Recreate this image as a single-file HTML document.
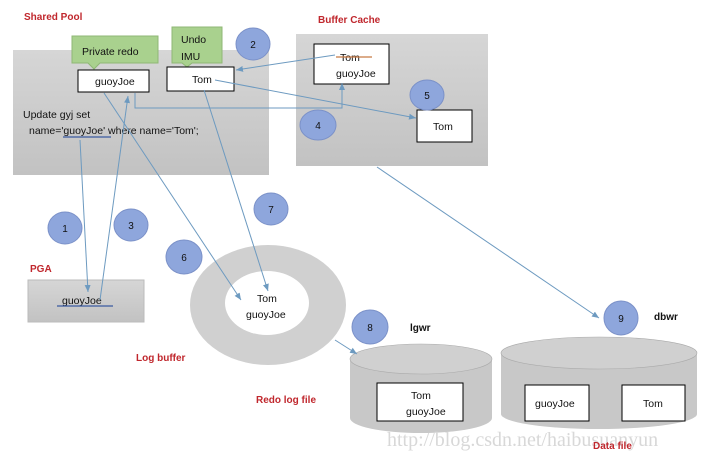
<!DOCTYPE html>
<html><head><meta charset="utf-8"><style>
html,body{margin:0;padding:0;background:#fff;}
svg{display:block;font-family:"Liberation Sans",sans-serif;}
.red{fill:#c0272d;font-weight:bold;font-size:10px;}
.t{font-size:10.5px;fill:#111;}
.c{fill:#8ea6dc;stroke:#7b91c8;}
.cn{font-size:10px;fill:#111;text-anchor:middle;}
.ln{stroke:#6d9ac0;stroke-width:1;fill:none;marker-end:url(#a);}
</style></head><body>
<svg width="724" height="459" viewBox="0 0 724 459">
<defs>
<marker id="a" markerWidth="8" markerHeight="8" refX="7" refY="4" orient="auto" markerUnits="userSpaceOnUse"><path d="M0,1 L7,4 L0,7 z" fill="#6d9ac0"/></marker>
<linearGradient id="g" x1="0" y1="0" x2="0" y2="1"><stop offset="0" stop-color="#d6d6d6"/><stop offset="1" stop-color="#c2c2c2"/></linearGradient>
</defs>
<text x="24" y="20" class="red">Shared Pool</text>
<text x="318" y="23" class="red">Buffer Cache</text>
<rect x="13" y="50" width="256" height="125" fill="url(#g)"/>
<rect x="296" y="34" width="192" height="132" fill="url(#g)"/>
<path d="M72,36 H158 V63 H100 L94,69 L88,63 H72 Z" fill="#a9d18e" stroke="#8fb775"/>
<text x="82" y="55" class="t">Private redo</text>
<path d="M172,27 H222 V63 H192 L187,67 L182,63 H172 Z" fill="#a9d18e" stroke="#8fb775"/>
<text x="181" y="43" class="t">Undo</text><text x="181" y="60" class="t">IMU</text>
<rect x="78" y="70" width="71" height="22" fill="#fff" stroke="#000"/>
<text x="95" y="85" class="t">guoyJoe</text>
<rect x="167" y="67" width="67" height="24" fill="#fff" stroke="#000"/>
<text x="192" y="83" class="t">Tom</text>
<text x="23" y="118" class="t">Update gyj set</text>
<text x="29" y="134" class="t">name='guoyJoe' where name='Tom';</text>
<line x1="63" y1="137" x2="111" y2="137" stroke="#3a5aa0" stroke-width="1.2"/>
<rect x="314" y="44" width="75" height="40" fill="#fff" stroke="#000"/>
<text x="340" y="61" class="t">Tom</text>
<line x1="336" y1="57" x2="372" y2="57" stroke="#c87a45" stroke-width="1.2"/>
<text x="336" y="77" class="t">guoyJoe</text>
<rect x="417" y="110" width="55" height="32" fill="#fff" stroke="#000"/>
<text x="433" y="130" class="t">Tom</text>
<ellipse cx="253" cy="44" rx="17" ry="16" class="c"/><text x="253" y="48" class="cn">2</text>
<ellipse cx="427" cy="95" rx="17" ry="15" class="c"/><text x="427" y="99" class="cn">5</text>
<ellipse cx="318" cy="125" rx="18" ry="15" class="c"/><text x="318" y="129" class="cn">4</text>
<ellipse cx="65" cy="228" rx="17" ry="16" class="c"/><text x="65" y="232" class="cn">1</text>
<ellipse cx="131" cy="225" rx="17" ry="16" class="c"/><text x="131" y="229" class="cn">3</text>
<ellipse cx="271" cy="209" rx="17" ry="16" class="c"/><text x="271" y="213" class="cn">7</text>
<ellipse cx="184" cy="257" rx="18" ry="17" class="c"/><text x="184" y="261" class="cn">6</text>
<ellipse cx="370" cy="327" rx="18" ry="17" class="c"/><text x="370" y="331" class="cn">8</text>
<ellipse cx="621" cy="318" rx="17" ry="17" class="c"/><text x="621" y="322" class="cn">9</text>
<text x="30" y="272" class="red">PGA</text>
<rect x="28" y="280" width="116" height="42" fill="url(#g)" stroke="#bbb"/>
<text x="62" y="304" class="t">guoyJoe</text>
<line x1="57" y1="306" x2="113" y2="306" stroke="#3a5aa0" stroke-width="1.2"/>
<ellipse cx="268" cy="305" rx="78" ry="60" fill="#d0d0d0"/>
<ellipse cx="267" cy="303" rx="42" ry="32" fill="#fff"/>
<text x="257" y="302" class="t">Tom</text>
<text x="246" y="318" class="t">guoyJoe</text>
<text x="136" y="361" class="red">Log buffer</text>
<text x="256" y="403" class="red">Redo log file</text>
<path d="M350,359 V418 A71,15 0 0 0 492,418 V359 Z" fill="#c8c8c8"/>
<ellipse cx="421" cy="359" rx="71" ry="15" fill="#d0d0d0" stroke="#aaa" stroke-width="0.6"/>
<rect x="377" y="383" width="86" height="38" fill="#fff" stroke="#000"/>
<text x="411" y="399" class="t">Tom</text>
<text x="406" y="415" class="t">guoyJoe</text>
<text x="410" y="331" style="font-size:10px;font-weight:bold;fill:#111">lgwr</text>
<path d="M501,353 V414 A98,15 0 0 0 697,414 V353 Z" fill="#c8c8c8"/>
<ellipse cx="599" cy="353" rx="98" ry="16" fill="#d0d0d0" stroke="#aaa" stroke-width="0.6"/>
<rect x="525" y="385" width="64" height="36" fill="#fff" stroke="#000"/>
<text x="535" y="407" class="t">guoyJoe</text>
<rect x="622" y="385" width="63" height="36" fill="#fff" stroke="#000"/>
<text x="643" y="407" class="t">Tom</text>
<text x="654" y="320" style="font-size:10px;font-weight:bold;fill:#111">dbwr</text>
<path d="M335,55 L236,70" class="ln"/>
<path d="M215,80 L416,118" class="ln"/>
<path d="M135,93 V108 H342 V83" class="ln"/>
<path d="M80,140 L88,292" class="ln"/>
<path d="M100,300 L128,96" class="ln"/>
<path d="M104,93 L241,300" class="ln"/>
<path d="M204,90 L268,291" class="ln"/>
<path d="M377,167 L599,318" class="ln"/>
<path d="M335,340 L357,354" class="ln"/>
<text x="387" y="446" style="font-family:'Liberation Serif',serif;font-size:20px;fill:#d8d8d8">http://blog.csdn.net/haibusuanyun</text>
<text x="593" y="449" class="red">Data file</text>
</svg>
</body></html>
